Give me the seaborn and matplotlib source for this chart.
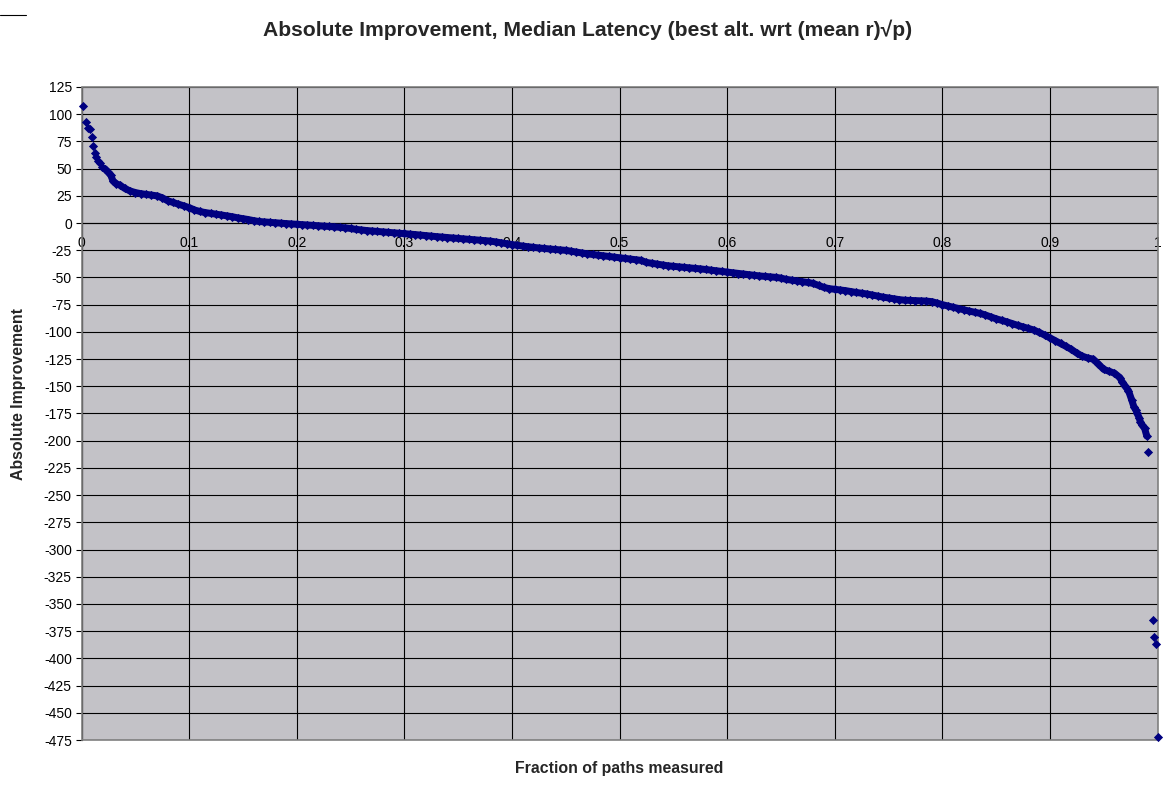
import numpy as np
import pandas as pd
import matplotlib
matplotlib.use("Agg")
import matplotlib.pyplot as plt
import seaborn as sns
from matplotlib.lines import Line2D
from matplotlib.patches import Rectangle

# ---------------- DATA ----------------
# sparse head of the curve
head_x = [0.0017, 0.004, 0.0063, 0.0079, 0.0098, 0.011, 0.0126, 0.0138, 0.0153,
          0.0172, 0.019, 0.0216, 0.0246, 0.0271, 0.0293, 0.0324, 0.0355]
head_y = [107.2, 92.5, 87.6, 86.0, 78.8, 70.5, 64.3, 60.6, 57.3,
          54.8, 51.5, 49.9, 46.9, 44.1, 38.6, 36.1, 34.9]

# dense body of the curve
body_x = [0.040, 0.045, 0.050, 0.055, 0.060, 0.065, 0.070, 0.075, 0.080, 0.085,
          0.090, 0.095, 0.100, 0.105, 0.110, 0.115, 0.120, 0.125, 0.130, 0.135,
          0.140, 0.145, 0.150, 0.155, 0.160, 0.165, 0.170, 0.175, 0.180, 0.185,
          0.190, 0.195, 0.200, 0.205, 0.210, 0.215, 0.220, 0.225, 0.230, 0.235,
          0.240, 0.245, 0.250, 0.255, 0.260, 0.265, 0.270, 0.275, 0.280, 0.285,
          0.290, 0.295, 0.300, 0.305, 0.310, 0.315, 0.320, 0.325, 0.330, 0.335,
          0.340, 0.345, 0.350, 0.355, 0.360, 0.365, 0.370, 0.375, 0.380, 0.385,
          0.390, 0.395, 0.400, 0.405, 0.410, 0.415, 0.420, 0.425, 0.430, 0.435,
          0.440, 0.445, 0.450, 0.455, 0.460, 0.465, 0.470, 0.475, 0.480, 0.485,
          0.490, 0.495, 0.500, 0.505, 0.510, 0.515, 0.520, 0.525, 0.530, 0.535,
          0.540, 0.545, 0.550, 0.555, 0.560, 0.565, 0.570, 0.575, 0.580, 0.585,
          0.590, 0.595, 0.600, 0.605, 0.610, 0.615, 0.620, 0.625, 0.630, 0.635,
          0.640, 0.645, 0.650, 0.655, 0.660, 0.665, 0.670, 0.675, 0.680, 0.685,
          0.690, 0.695, 0.700, 0.705, 0.710, 0.715, 0.720, 0.725, 0.730, 0.735,
          0.740, 0.745, 0.750, 0.755, 0.760, 0.765, 0.770, 0.775, 0.780, 0.785,
          0.790, 0.795, 0.800, 0.805, 0.810, 0.815, 0.820, 0.825, 0.830, 0.835,
          0.840, 0.845, 0.850, 0.855, 0.860, 0.865, 0.870, 0.875, 0.880, 0.885,
          0.890, 0.895, 0.900, 0.905, 0.910, 0.915, 0.920, 0.925, 0.930, 0.935,
          0.940, 0.945, 0.950, 0.955, 0.960, 0.965]
body_y = [31.9, 29.5, 28.0, 27.0, 26.3, 25.7, 25.0, 23.2, 20.5, 18.9,
          17.4, 15.8, 14.2, 12.0, 10.6, 9.6, 8.9, 8.2, 7.4, 6.6,
          5.8, 4.8, 4.0, 3.2, 2.2, 1.4, 1.0, 0.6, 0.2, -0.1,
          -0.5, -0.8, -1.1, -1.4, -1.8, -2.2, -2.5, -2.8, -3.2, -3.5,
          -3.9, -4.4, -5.0, -5.8, -6.4, -6.9, -7.3, -7.7, -8.0, -8.4,
          -8.8, -9.2, -9.6, -10.1, -10.6, -11.1, -11.6, -12.0, -12.5, -12.9,
          -13.4, -13.8, -14.2, -14.6, -15.0, -15.4, -15.8, -16.2, -16.6, -17.4,
          -18.3, -19.1, -19.8, -20.5, -21.2, -21.8, -22.4, -22.9, -23.4, -23.9,
          -24.3, -24.7, -25.1, -25.9, -26.8, -27.6, -28.3, -28.9, -29.5, -30.1,
          -30.7, -31.3, -31.9, -32.4, -33.0, -33.6, -34.3, -36.2, -37.0, -37.8,
          -38.6, -39.3, -39.8, -40.3, -40.8, -41.2, -41.6, -42.1, -42.7, -43.3,
          -43.9, -44.5, -45.1, -45.8, -46.4, -47.0, -47.6, -48.1, -48.6, -49.0,
          -49.5, -49.9, -50.6, -51.8, -52.5, -53.1, -53.8, -54.6, -55.5, -57.3,
          -59.2, -60.3, -60.9, -61.5, -62.1, -63.0, -63.8, -64.5, -65.2, -66.2,
          -67.3, -68.1, -68.8, -69.6, -70.4, -70.9, -71.1, -71.3, -71.5, -71.7,
          -72.2, -73.5, -75.0, -76.2, -77.4, -78.7, -79.8, -80.9, -81.9, -83.0,
          -84.5, -86.3, -88.0, -89.4, -90.8, -92.4, -94.0, -95.4, -96.8, -98.3,
          -100.5, -102.9, -105.5, -108.0, -110.6, -113.4, -116.2, -119.5, -122.3, -124.0,
          -125.0, -129.5, -134.5, -136.3, -138.0, -142.0]

# sparse tail and outliers
tail_x = [0.967, 0.970, 0.973, 0.976, 0.978, 0.980, 0.981, 0.983, 0.984, 0.986,
          0.988, 0.990, 0.991, 0.9956, 0.9965, 0.9984, 1.0]
tail_y = [-145.8, -150.0, -154.0, -162.6, -168.8, -172.0, -174.9, -179.0, -182.6, -186.0,
          -188.7, -195.7, -210.7, -365.0, -380.7, -387.0, -472.6]

x_ticks = [0, 0.1, 0.2, 0.3, 0.4, 0.5, 0.6, 0.7, 0.8, 0.9, 1]
x_labels = ["0", "0.1", "0.2", "0.3", "0.4", "0.5", "0.6", "0.7", "0.8", "0.9", "1"]
y_ticks = list(range(-475, 126, 25))

TITLE = "Absolute Improvement, Median Latency (best alt. wrt (mean r)\u221ap)"
NAVY = "#000080"

# ---------------- PLOT ----------------
df = pd.DataFrame({"frac": head_x + body_x + tail_x,
                   "impr": head_y + body_y + tail_y})
# the dense middle part is so packed that the markers merge into a band
band = pd.DataFrame({"frac": head_x[-6:] + body_x + tail_x[:12],
                     "impr": head_y[-6:] + body_y + tail_y[:12]})

sns.set_style("white")
plt.rcParams["font.family"] = ["Liberation Sans", "DejaVu Sans"]

fig = plt.figure(figsize=(11.71, 7.87), dpi=100)
ax = fig.add_axes([0.0696, 0.0597, 0.9189, 0.8298])
ax.set_facecolor("#C3C2C7")

sns.lineplot(data=band, x="frac", y="impr", color=NAVY, linewidth=5.0,
             sort=False, ax=ax, zorder=3)
sns.scatterplot(data=df, x="frac", y="impr", marker="D", s=22, color=NAVY,
                linewidth=0, ax=ax, zorder=5, clip_on=False)

ax.set_xlim(0, 1)
ax.set_ylim(-475, 125)
ax.set_xticks(x_ticks)
ax.set_xticklabels(x_labels, fontsize=10)
ax.set_yticks(y_ticks)
ax.set_yticklabels([str(v) for v in y_ticks], fontsize=10)

ax.grid(True, color="black", linewidth=0.8)
ax.set_axisbelow(True)

# x axis crosses at y = 0 like the original spreadsheet chart
ax.spines["bottom"].set_position(("data", 0))
ax.spines["bottom"].set_color("black")
ax.spines["bottom"].set_linewidth(0.8)
ax.spines["left"].set_color("black")
ax.spines["left"].set_linewidth(0.8)
ax.spines["top"].set_visible(False)
ax.spines["right"].set_visible(False)
ax.add_patch(Rectangle((0, 0), 1, 1, transform=ax.transAxes, fill=False,
                       edgecolor="#808080", linewidth=1.2, zorder=4, clip_on=False))

ax.tick_params(axis="x", length=0, pad=9, colors="black")
ax.tick_params(axis="y", direction="out", length=4, width=0.8, pad=3, left=True,
               colors="black")

ax.set_xlabel("")
ax.set_ylabel("")
fig.text(0.529, 0.024, "Fraction of paths measured", ha="center", va="center",
         fontsize=11.4, fontweight="bold")
fig.text(0.0155, 0.50, "Absolute Improvement", ha="center", va="center",
         rotation=90, fontsize=11.4, fontweight="bold")
fig.text(0.502, 0.962, TITLE, ha="center", va="center", fontsize=15.2,
         fontweight="bold")

# small stray line in the top-left corner of the original
fig.add_artist(Line2D([0, 0.022], [0.981, 0.981], color="black", linewidth=0.8))

fig.savefig("out.png", dpi=100)
